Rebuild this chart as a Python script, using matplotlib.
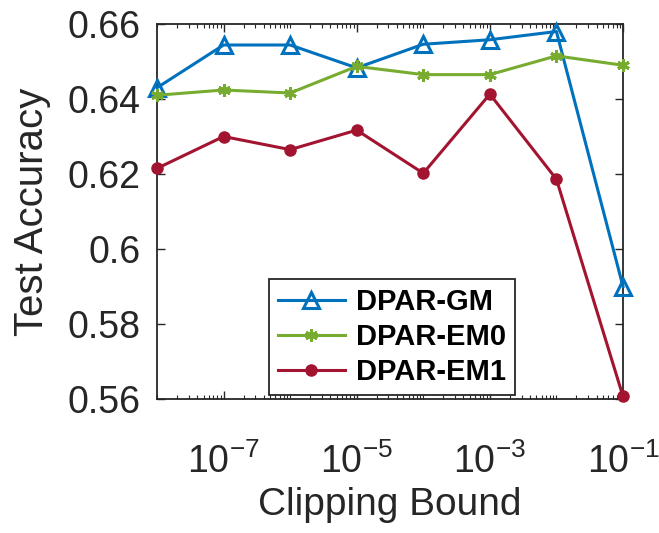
import matplotlib

matplotlib.use("Agg", force=True)
import matplotlib.pyplot as plt
from matplotlib.ticker import FixedLocator, NullFormatter

plt.rcParams["font.family"] = ["Liberation Sans", "DejaVu Sans"]
plt.rcParams["mathtext.fontset"] = "custom"
plt.rcParams["mathtext.rm"] = "Liberation Sans"
plt.rcParams["mathtext.it"] = "Liberation Sans:italic"
plt.rcParams["mathtext.bf"] = "Liberation Sans:bold"

# clipping bounds (x) and test accuracy per method
clip_bounds = [1e-8, 1e-7, 1e-6, 1e-5, 1e-4, 1e-3, 1e-2, 1e-1]
acc_gm = [0.643, 0.6544, 0.6544, 0.6483, 0.6546, 0.6558, 0.6580, 0.5900]
acc_em0 = [0.6410, 0.6424, 0.6416, 0.6487, 0.6465, 0.6465, 0.6515, 0.6490]
acc_em1 = [0.6215, 0.6300, 0.6265, 0.6317, 0.6202, 0.6413, 0.6186, 0.5607]
series_names = ["DPAR-GM", "DPAR-EM0", "DPAR-EM1"]

x_ticks = [1e-7, 1e-5, 1e-3, 1e-1]
x_tick_labels = [r"$10^{-7}$", r"$10^{-5}$", r"$10^{-3}$", r"$10^{-1}$"]
y_ticks = [0.56, 0.58, 0.60, 0.62, 0.64, 0.66]
y_tick_labels = ["0.56", "0.58", "0.6", "0.62", "0.64", "0.66"]

fig = plt.figure(figsize=(6.59, 5.33), dpi=100)
ax = fig.add_axes([157 / 659, 134 / 533, 466 / 659, 375 / 533])

ax.plot(clip_bounds, acc_gm, color="#0072BD", linewidth=2.2, marker="^",
        markersize=12, markerfacecolor="none", markeredgewidth=2.2,
        label=series_names[0], clip_on=False, zorder=3)
ax.plot(clip_bounds, acc_em0, color="#77AC30", linewidth=2.2, marker=(6, 2, 0),
        markersize=9, markeredgewidth=2.2, label=series_names[1], clip_on=False, zorder=4)
ax.plot(clip_bounds, acc_em1, color="#A2142F", linewidth=2.2, marker="o",
        markersize=8, label=series_names[2], clip_on=False, zorder=5)

ax.set_xscale("log")
ax.set_xlim(1e-8, 1e-1)
ax.set_ylim(0.56, 0.66)

ax.xaxis.set_major_locator(FixedLocator(x_ticks))
ax.set_xticklabels(x_tick_labels)
minor = [k * 10.0 ** e for e in range(-8, -1) for k in range(1, 10)]
ax.xaxis.set_minor_locator(FixedLocator([m for m in minor if m not in x_ticks]))
ax.xaxis.set_minor_formatter(NullFormatter())
ax.set_yticks(y_ticks)
ax.set_yticklabels(y_tick_labels)

ax.tick_params(which="both", direction="in", top=True, right=True, colors="#262626")
ax.tick_params(which="major", length=6, width=1.0, labelcolor="#262626")
ax.tick_params(axis="y", labelsize=27, pad=12)
ax.tick_params(axis="x", labelsize=27, pad=32)
ax.tick_params(which="minor", length=3, width=0.8)
for spine in ax.spines.values():
    spine.set_linewidth(1.3)
    spine.set_color("#262626")

ax.set_xlabel("Clipping Bound", fontsize=28, color="#262626", labelpad=4)
ax.set_ylabel("Test Accuracy", fontsize=29, color="#262626", labelpad=12)

leg = ax.legend(loc="lower left", bbox_to_anchor=(0.24, 0.01), borderaxespad=0,
                fancybox=False, framealpha=1, edgecolor="#262626",
                prop={"weight": "bold", "size": 21}, handlelength=2.3,
                labelspacing=0.25, handletextpad=0.4, borderpad=0.3)
leg.get_frame().set_linewidth(1.3)

fig.savefig("out.png", dpi=100)
